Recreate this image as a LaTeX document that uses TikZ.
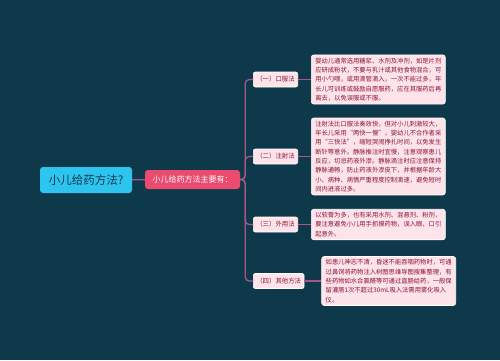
\documentclass[tikz,border=0pt]{standalone}
\usepackage{fontspec}
\setmainfont{Noto Sans CJK SC}
\usetikzlibrary{positioning}
\definecolor{bgTeal}{RGB}{14, 57, 75}
\definecolor{rootCyan}{RGB}{46, 196, 240}
\definecolor{mainRose}{RGB}{233, 76, 111}
\definecolor{leafPink}{RGB}{253, 228, 234}
\definecolor{inkMaroon}{RGB}{140, 20, 55}
\definecolor{linkMauve}{RGB}{168, 86, 136}

\begin{document}
\begin{tikzpicture}[
    x=1pt, y=-1pt,
    node distance=13pt,
    rootnode/.style={rectangle, fill=rootCyan, rounded corners=3pt, minimum width=92pt, minimum height=26pt, text=bgTeal, font=\fontsize{11.5}{13}\selectfont},
    mainnode/.style={rectangle, fill=mainRose, rounded corners=3pt, minimum width=95pt, minimum height=19pt, text=white, font=\fontsize{8}{9}\selectfont},
    branch/.style={rectangle, fill=leafPink, draw=white, line width=0.6pt, rounded corners=2pt, minimum height=15pt, inner xsep=3pt, inner ysep=1pt, text=inkMaroon, font=\fontsize{6.4}{7}\selectfont},
    leaf/.style={rectangle, fill=leafPink, draw=white, line width=0.6pt, rounded corners=2.5pt, align=left, inner xsep=4pt, inner ysep=3pt, text=inkMaroon, font=\fontsize{6.3}{9.3}\selectfont},
    link/.style={linkMauve, line width=1.3pt, rounded corners=4pt}
]
    % background and page size
    \useasboundingbox[fill=bgTeal] (0,0) rectangle (500,360);

    % Root and its summary node
    \node[rootnode] (root) at (86,180) {小儿给药方法?};
    \node[mainnode] (main) at (192.5,179.5) {小儿给药方法主要有：};

    % Branches (left edges aligned)
    \node[branch, anchor=west] (oral) at (253,79.5) {（一）口服法};
    \node[branch, anchor=west] (inject) at (253,156.5) {（二）注射法};
    \node[branch, anchor=west] (extern) at (253,224.5) {（三）外用法};
    \node[branch, anchor=west] (other) at (253,281) {（四）其他方法};

    % Leaves, right of each branch
    \node[leaf, right=of oral] (oralText) {%
        婴幼儿通常选用糖浆、水剂及冲剂，如是片剂\\
        应研成粉状，不要与乳汁或其他食物混合，可\\
        用小勺喂，或用滴管滴入，一次不能过多，年\\
        长儿可训练或鼓励自愿服药，应在其服药后再\\
        离去，以免误服或不服。%
    };
    \node[leaf, right=of inject] (injectText) {%
        注射法比口服法奏效快，但对小儿刺激较大，\\
        年长儿采用“两快一慢”，婴幼儿不合作者采\\
        用“三快法”，缩短哭闹挣扎时间，以免发生\\
        断针等意外。静脉推注时宜慢，注意观察患儿\\
        反应，切忌药液外渗。静脉滴注时应注意保持\\
        静脉通畅，防止药液外渗皮下，并根据年龄大\\
        小、病种、病情严重程度控制滴速，避免短时\\
        间内进液过多。%
    };
    \node[leaf, right=of extern] (externText) {%
        以软膏为多，也有采用水剂、混悬剂、粉剂，\\
        要注意避免小儿用手抓摸药物，误入眼、口引\\
        起意外。%
    };
    \node[leaf, right=17pt of other] (otherText) {%
        如患儿神志不清，昏迷不能吞咽药物时，可通\\
        过鼻饲将药物注入树图思维导图搜集整理，有\\
        些药物如水合氯醛等可通过直肠给药，一般保\\
        留灌肠1次不超过30mL吸入法需用雾化吸入\\
        仪。%
    };

    % Connectors
    \draw[link] (root) -- (main);
    \draw[link] (main.east) -- ++(5,0) |- (oral.west);
    \draw[link] (main.east) -- ++(5,0) |- (inject.west);
    \draw[link] (main.east) -- ++(5,0) |- (extern.west);
    \draw[link] (main.east) -- ++(5,0) |- (other.west);
    \draw[link] (oral) -- (oralText);
    \draw[link] (inject) -- (injectText);
    \draw[link] (extern) -- (externText);
    \draw[link] (other) -- (otherText);
\end{tikzpicture}
\end{document}
